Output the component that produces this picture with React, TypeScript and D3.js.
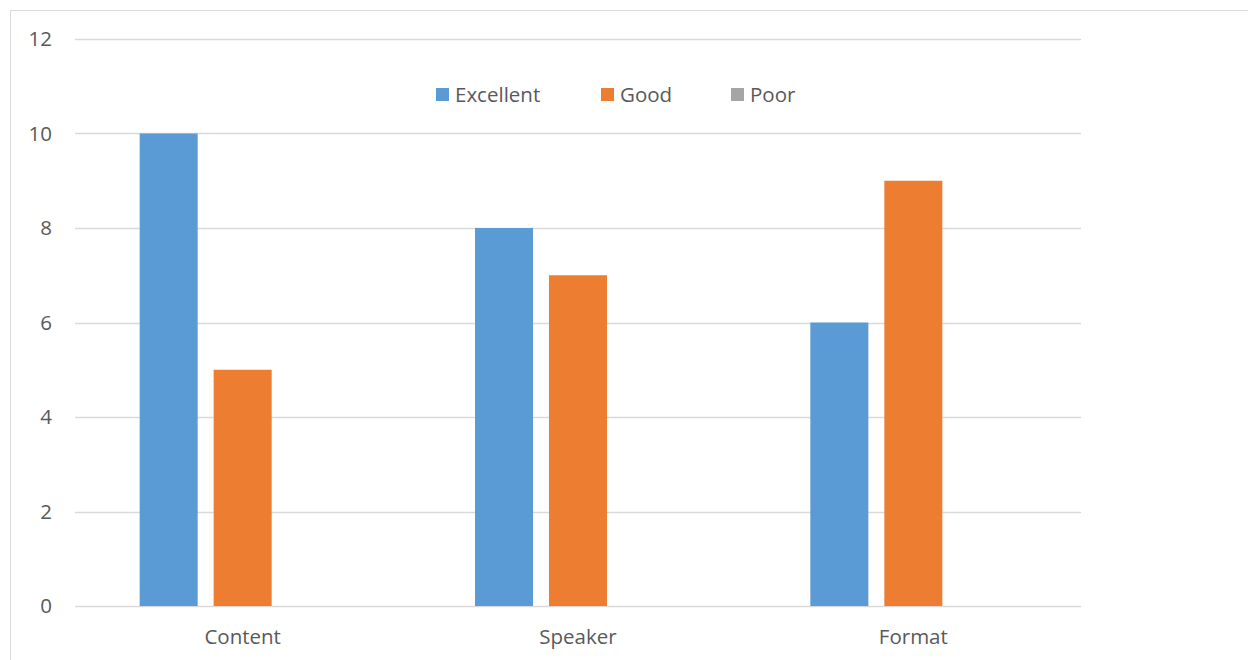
import React from "react";
import * as d3 from "d3";

const categories = ["Content", "Speaker", "Format"];
const seriesNames = ["Excellent", "Good", "Poor"];
const excellent = [10, 8, 6];
const good = [5, 7, 9];
const poor = [0, 0, 0];
const yTicks = [0, 2, 4, 6, 8, 10, 12];
const colors = ["#5b9bd5", "#ed7d31", "#a5a5a5"];

const W = 1248;
const H = 660;
const font = "'Open Sans', sans-serif";
const textColor = "#595959";
const fs = 20.5;

export default function App() {
  const values = [excellent, good, poor];
  const y = d3.scaleLinear().domain([0, 12]).range([606, 39]);
  const x0 = d3.scaleBand<string>().domain(categories).range([75, 1081]).padding(0);
  const x1 = d3
    .scaleBand<string>()
    .domain(seriesNames)
    .range([0, x0.bandwidth()])
    .paddingInner(0.216)
    .paddingOuter(0.874);

  const legendItems = [
    { name: "Excellent", x: 436 },
    { name: "Good", x: 601 },
    { name: "Poor", x: 731 },
  ];

  return (
    <svg
      width={W}
      height={H}
      style={{ position: "absolute", left: 0, top: 0, background: "#fff" }}
    >
      <rect x={10.5} y={10.5} width={W + 10} height={H + 10} fill="#fff" stroke="#d9d9d9" strokeWidth={1} />
      {yTicks.map((t) => (
        <g key={t}>
          <line x1={75} x2={1081} y1={Math.round(y(t)) + 0.5} y2={Math.round(y(t)) + 0.5} stroke="#d9d9d9" strokeWidth={1.5} />
          <text
            x={52}
            y={y(t)}
            dy="0.35em"
            textAnchor="end"
            fontFamily={font}
            fontSize={fs}
            fill={textColor}
          >
            {t}
          </text>
        </g>
      ))}
      {categories.map((c, ci) => (
        <g key={c}>
          {seriesNames.map((s, si) => {
            const v = values[si][ci];
            if (v <= 0) return null;
            return (
              <rect
                key={s}
                x={(x0(c) as number) + (x1(s) as number)}
                y={y(v)}
                width={x1.bandwidth()}
                height={y(0) - y(v)}
                fill={colors[si]}
              />
            );
          })}
          <text
            x={(x0(c) as number) + x0.bandwidth() / 2}
            y={644}
            textAnchor="middle"
            fontFamily={font}
            fontSize={fs}
            fill={textColor}
          >
            {c}
          </text>
        </g>
      ))}
      {legendItems.map((l, i) => (
        <g key={l.name}>
          <rect x={l.x} y={88} width={13} height={13} fill={colors[i]} />
          <text x={l.x + 19} y={102} fontFamily={font} fontSize={fs} fill={textColor}>
            {l.name}
          </text>
        </g>
      ))}
    </svg>
  );
}
